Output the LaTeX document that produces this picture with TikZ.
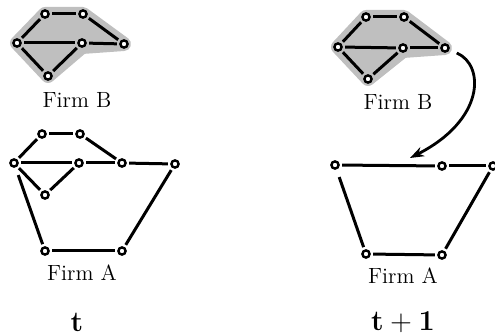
\documentclass[tikz,border=0pt]{standalone}
\usetikzlibrary{arrows.meta}
\begin{document}
\begin{tikzpicture}[x=0.5pt,y=-0.5pt,
  vtx/.style={circle,draw=black,fill=white,line width=1.2pt,inner sep=0pt,minimum size=3.6pt},
  edge/.style={line width=1.5pt,shorten <=1.2pt,shorten >=1.2pt},
  hull/.style={fill=gray!50,draw=gray!50,line width=7pt,line join=round},
  lbl/.style={font=\fontsize{11}{13}\selectfont},
  tlbl/.style={font=\fontsize{14.5}{16}\selectfont}]
\useasboundingbox (0,0) rectangle (495,335);
% ---------- left Firm B
\filldraw[hull] (45,14) -- (83,14) -- (124,44) -- (82,47) -- (48,76) -- (17,43) -- cycle;
\node[vtx] (b1) at (45,14) {};
\node[vtx] (b2) at (83,14) {};
\node[vtx] (b3) at (17,43) {};
\node[vtx] (b4) at (82,43) {};
\node[vtx] (b5) at (124,44) {};
\node[vtx] (b6) at (48,76) {};
\draw[edge] (b1)--(b2); \draw[edge] (b2)--(b5); \draw[edge] (b1)--(b3);
\draw[edge] (b3)--(b4); \draw[edge] (b4)--(b5); \draw[edge] (b3)--(b6);
\draw[edge] (b6)--(b4);
\node[lbl] (lb) at (77,100) {Firm B};
% ---------- left Firm A
\node[vtx] (a1) at (42,134) {};
\node[vtx] (a2) at (80,134) {};
\node[vtx] (a3) at (14,163) {};
\node[vtx] (a4) at (79,163) {};
\node[vtx] (a5) at (122,163) {};
\node[vtx] (a6) at (175,164) {};
\node[vtx] (a7) at (45,195) {};
\node[vtx] (a8) at (45,251) {};
\node[vtx] (a9) at (122,251) {};
\draw[edge] (a1)--(a2); \draw[edge] (a1)--(a3); \draw[edge] (a2)--(a5);
\draw[edge] (a3)--(a4); \draw[edge] (a4)--(a5); \draw[edge] (a5)--(a6);
\draw[edge] (a3)--(a7); \draw[edge] (a7)--(a4);
\draw[edge,shorten <=4pt] (a3)--(a8);
\draw[edge] (a8)--(a9); \draw[edge] (a9)--(a6);
\node[lbl] (la) at (82,273) {Firm A};
\node[tlbl] (t0) at (77,322) {$\mathbf{t}$};
% ---------- right Firm B
\filldraw[hull] (366,17) -- (404,17) -- (445,48) -- (403,51) -- (368,79) -- (338,47) -- cycle;
\node[vtx] (c1) at (366,17) {};
\node[vtx] (c2) at (404,17) {};
\node[vtx] (c3) at (338,47) {};
\node[vtx] (c4) at (403,48) {};
\node[vtx] (c5) at (445,48) {};
\node[vtx] (c6) at (368,79) {};
\draw[edge] (c1)--(c2); \draw[edge] (c2)--(c5); \draw[edge] (c1)--(c3);
\draw[edge] (c3)--(c4); \draw[edge] (c4)--(c5); \draw[edge] (c3)--(c6);
\draw[edge] (c6)--(c4);
\node[lbl] (rb) at (398,102) {Firm B};
% ---------- right Firm A
\node[vtx] (d1) at (335,165) {};
\node[vtx] (d2) at (442,166) {};
\node[vtx] (d3) at (493,166) {};
\node[vtx] (d4) at (366,254) {};
\node[vtx] (d5) at (442,255) {};
\draw[edge] (d1)--(d2); \draw[edge] (d2)--(d3);
\draw[edge,shorten <=4pt] (d1)--(d4);
\draw[edge] (d4)--(d5); \draw[edge] (d5)--(d3);
\node[lbl] (ra) at (403,276) {Firm A};
\node[tlbl] (t1) at (403,322) {$\mathbf{t+1}$};
% ---------- arrow
\coordinate (tip) at (410,158);
\draw[line width=1.4pt,-{Stealth[length=7pt,width=5pt]},shorten <=4pt] (c5) .. controls (485,65) and (485,120) .. (tip);
\end{tikzpicture}
\end{document}
